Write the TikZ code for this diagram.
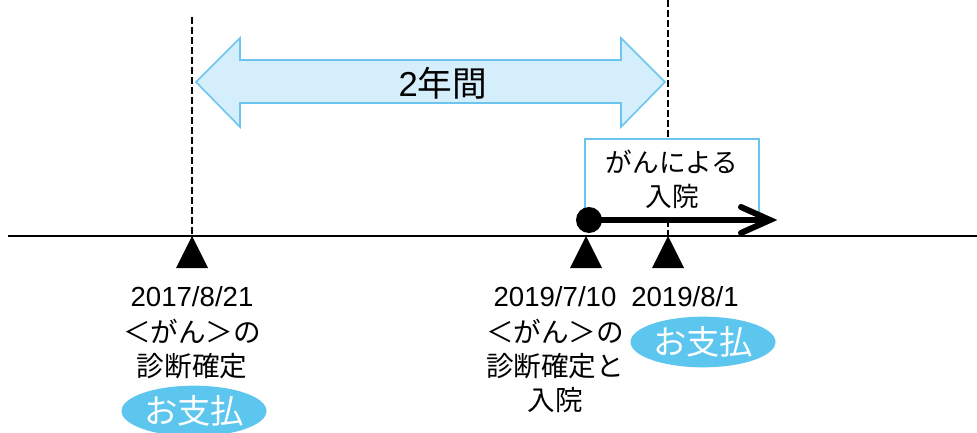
\documentclass[tikz,border=0pt]{standalone}
\usepackage{fontspec}
\setmainfont{Liberation Sans}
\newfontfamily\jp{Noto Sans CJK JP}
\usetikzlibrary{arrows.meta,shapes.geometric}
\definecolor{lblue}{HTML}{D5EEFB}
\definecolor{mblue}{HTML}{6CC5EE}
\definecolor{pill}{HTML}{5CC6EE}
\begin{document}
\begin{tikzpicture}[x=0.75pt,y=-0.75pt,
  lbl/.style={align=center,inner sep=0pt,font=\fontsize{20.7}{25.5}\selectfont},
  pay/.style={ellipse,fill=pill,minimum width=108.75pt,minimum height=38pt,inner sep=0pt,text=white,font=\jp\fontsize{25}{28}\selectfont},
  vdash/.style={line width=1.6pt,dash pattern=on 5pt off 2.5pt},
  tri/.style={fill=black}
]
\useasboundingbox (0,0) rectangle (977,432);
% dashed guides
\coordinate (d1t) at (192,17);
\coordinate (d1b) at (192,236);
\coordinate (d2t) at (668,0);
\coordinate (d2b) at (668,236);
\draw[vdash] (d1t) -- (d1b);
\draw[vdash] (d2t) -- (d2b);
% double arrow
\draw[fill=lblue,draw=mblue,line width=1.2pt,line join=miter]
  (196,82) -- (240,38) -- (240,60) -- (621,60) -- (621,38) -- (665,82)
  -- (621,127) -- (621,103) -- (240,103) -- (240,127) -- cycle;
\node[font=\fontsize{26}{30}\selectfont,inner sep=0pt] (dur) at (443,83) {2{\jp 年間}};
% hospital box
\node[draw=mblue,line width=1pt,fill=white,minimum width=130.5pt,minimum height=60.75pt,
  align=center,inner sep=0pt,font=\jp\fontsize{20}{25.5}\selectfont] (box) at (672,179.5) {がんによる\\入院};
% timeline
\coordinate (tl) at (8,236);
\coordinate (tr) at (977,236);
\draw[line width=2pt] (tl) -- (tr);
% hospital arrow
\node[circle,fill=black,minimum size=19.5pt,inner sep=0pt] (dot) at (589,220) {};
\coordinate (tip) at (770,220);
\draw[line width=4.5pt] (dot.center) -- ([shift={(-5,0)}]tip);
\draw[line width=4.5pt,line cap=round,line join=miter] ([shift={(-29,-13)}]tip) -- (tip) -- ([shift={(-29,13)}]tip);
% triangles
\coordinate (t1) at (192,236);
\coordinate (t2) at (586,236);
\coordinate (t3) at (668,236);
\foreach \t in {t1,t2,t3} \fill[tri] (\t) -- ++(-16,32) -- ++(32,0) -- cycle;
% labels
\node[lbl,anchor=north] (lab1) at (192,286) {2017/8/21\\[2pt]{\jp ＜がん＞の}\\{\jp 診断確定}};
\node[lbl,anchor=north] (lab2) at (555,286) {2019/7/10\\[2pt]{\jp ＜がん＞の}\\{\jp 診断確定と}\\{\jp 入院}};
\node[lbl,anchor=north] (lab3) at (685,286) {2019/8/1};
\node[pay] (pay1) at (194,411) {お支払};
\node[pay] (pay2) at (703,342) {お支払};
\end{tikzpicture}
\end{document}
